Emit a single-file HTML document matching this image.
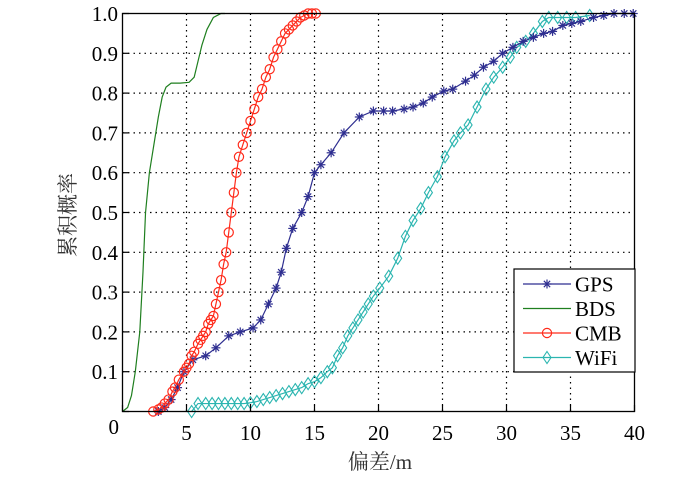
<!DOCTYPE html>
<html><head><meta charset="utf-8"><style>
html,body{margin:0;padding:0;background:#fff;}
svg{display:block;font-family:"Liberation Serif","Noto Serif CJK SC",serif;}
</style></head><body>
<svg id="chart" width="700" height="478" viewBox="0 0 700 478" xmlns="http://www.w3.org/2000/svg">
<g id="grid"></g>
<g id="series"></g>
<rect x="122.5" y="13.5" width="512" height="398" fill="none" stroke="#000" stroke-width="1.3"/>
<g id="ticks"></g>
<text transform="translate(75,215) rotate(-90)" text-anchor="middle" font-size="21" fill="#333" font-family="'Liberation Serif','Noto Serif CJK SC',serif">累积概率</text>
<text x="380" y="469" text-anchor="middle" font-size="21" fill="#333" font-family="'Liberation Serif','Noto Serif CJK SC',serif">偏差/m</text>
<g id="legend">
<rect x="514" y="269" width="121" height="103" fill="#fff" stroke="#000" stroke-width="1.2"/>
</g>
</svg>
<script>
const xTicks=[0,5,10,15,20,25,30,35,40];
const yTicks=[0,0.1,0.2,0.3,0.4,0.5,0.6,0.7,0.8,0.9,1.0];
const yTickLabels=["0","0.1","0.2","0.3","0.4","0.5","0.6","0.7","0.8","0.9","1.0"];
const gpsX=[2.8,3.3,3.8,4.3,4.8,5.5,6.5,7.3,8.3,9.2,10.2,10.8,11.4,12,12.4,12.8,13.3,14,14.5,15,15.5,16.3,17.3,18.5,19.6,20.4,21.1,22,22.7,23.5,24.2,25.1,25.8,26.8,27.5,28.2,29,29.7,30.5,31.3,32.1,32.9,33.6,34.4,35.1,35.8,36.8,37.6,38.4,39.2,39.9];
const gpsY=[0,0.01,0.03,0.06,0.1,0.13,0.14,0.16,0.19,0.2,0.21,0.23,0.27,0.31,0.35,0.41,0.46,0.5,0.54,0.6,0.62,0.65,0.7,0.74,0.755,0.755,0.755,0.76,0.765,0.775,0.79,0.805,0.81,0.83,0.845,0.865,0.88,0.9,0.915,0.93,0.94,0.95,0.955,0.97,0.975,0.98,0.99,0.995,1,1,1];
const bdsX=[0,0.4,0.7,1,1.35,1.6,1.8,2.1,2.5,2.8,3.1,3.4,3.8,4.5,5.2,5.6,5.9,6.2,6.6,7.1,7.7,8];
const bdsY=[0,0.01,0.04,0.1,0.2,0.35,0.5,0.6,0.68,0.74,0.79,0.815,0.825,0.825,0.827,0.84,0.88,0.92,0.96,0.99,1,1];
const cmbX=[2.4,2.8,3.05,3.3,3.6,3.9,4.1,4.4,4.8,5.0,5.2,5.4,5.6,5.9,6.1,6.3,6.5,6.7,6.9,7.1,7.3,7.5,7.7,7.9,8.1,8.3,8.5,8.7,8.9,9.1,9.4,9.7,10,10.3,10.6,10.9,11.2,11.5,11.8,12.1,12.4,12.7,13,13.3,13.6,13.9,14.2,14.5,14.8,15.1];
const cmbY=[0,0.005,0.01,0.02,0.03,0.05,0.06,0.08,0.1,0.11,0.12,0.14,0.15,0.17,0.18,0.19,0.2,0.22,0.23,0.24,0.27,0.3,0.33,0.37,0.4,0.45,0.5,0.55,0.6,0.64,0.67,0.7,0.73,0.76,0.79,0.81,0.84,0.86,0.89,0.91,0.93,0.95,0.96,0.97,0.98,0.99,0.995,1,1,1];
const wifiX=[5.4,5.9,6.5,7,7.5,8,8.5,9,9.5,10,10.5,11,11.5,12,12.5,13,13.5,14,14.5,15,15.5,16,16.4,16.8,17.2,17.6,18,18.4,18.8,19.2,19.6,20.1,20.8,21.5,22.1,22.7,23.3,23.9,24.6,25.2,25.9,26.4,27,27.7,28.4,29,29.7,30.3,30.8,31.5,32.1,32.8,33.3,34,34.7,35.4,36.5];
const wifiY=[0,0.02,0.02,0.02,0.02,0.02,0.02,0.02,0.02,0.022,0.025,0.03,0.035,0.04,0.045,0.05,0.055,0.06,0.07,0.075,0.085,0.1,0.11,0.14,0.16,0.19,0.21,0.23,0.25,0.27,0.29,0.31,0.34,0.385,0.44,0.48,0.51,0.55,0.59,0.64,0.68,0.7,0.72,0.765,0.81,0.84,0.865,0.89,0.915,0.93,0.95,0.98,0.99,0.99,0.99,0.99,0.995];

const X0=122.5,XS=12.8,Y0=411.5,YS=398;
const sx=v=>X0+v*XS, sy=v=>Y0-v*YS;
const NS="http://www.w3.org/2000/svg";
function mk(tag,attrs,parent){const e=document.createElementNS(NS,tag);for(const k in attrs)e.setAttribute(k,attrs[k]);parent.appendChild(e);return e;}
const grid=document.getElementById('grid'),ticks=document.getElementById('ticks'),ser=document.getElementById('series'),leg=document.getElementById('legend');
xTicks.forEach((t,i)=>{
  const x=sx(t);
  if(i>0&&i<xTicks.length-1){const g=mk('line',{x1:x,x2:x,y1:13.5,y2:411.5,stroke:'#000','stroke-width':1.2,'stroke-dasharray':'1.5,4'},grid);
  
  }
  const tk=mk('line',{x1:x,x2:x,y1:411.5,y2:405,stroke:'#000','stroke-width':1.2},ticks);
  
  
  if(t!==0){const tx=mk('text',{x:x,y:440,'text-anchor':'middle','font-size':21},ticks);tx.textContent=t;
  
  }
});
const z=mk('text',{x:119,y:434,'text-anchor':'end','font-size':21},ticks);z.textContent='0';


yTicks.forEach((t,i)=>{
  const y=sy(t);
  if(i>0&&i<yTicks.length-1){const g=mk('line',{x1:122.5,x2:634.5,y1:y,y2:y,stroke:'#000','stroke-width':1.2,'stroke-dasharray':'1.5,4'},grid);
  
  }
  const tk=mk('line',{x1:122.5,x2:129,y1:y,y2:y,stroke:'#000','stroke-width':1.2},ticks);
  
  
  if(i>0){const tx=mk('text',{x:118,y:y+7.5,'text-anchor':'end','font-size':21},ticks);tx.textContent=yTickLabels[i];
  
  }
});
function line(xs,ys,color,name){
  const p=mk('polyline',{points:xs.map((v,i)=>sx(v)+','+sy(ys[i])).join(' '),fill:'none',stroke:color,'stroke-width':1.2},ser);
  
  
}
function star(x,y,c,parent){const r=4.5;const g=mk('g',{stroke:c,'stroke-width':1.2},parent);
  mk('line',{x1:x-r,x2:x+r,y1:y,y2:y},g);mk('line',{x1:x,x2:x,y1:y-r,y2:y+r},g);
  mk('line',{x1:x-r*0.7,x2:x+r*0.7,y1:y-r*0.7,y2:y+r*0.7},g);mk('line',{x1:x-r*0.7,x2:x+r*0.7,y1:y+r*0.7,y2:y-r*0.7},g);return g;}
function circ(x,y,c,parent){return mk('circle',{cx:x,cy:y,r:4.6,fill:'none',stroke:c,'stroke-width':1.2},parent);}
function diam(x,y,c,parent){return mk('polygon',{points:`${x},${y-6} ${x+4},${y} ${x},${y+6} ${x-4},${y}`,fill:'none',stroke:c,'stroke-width':1.1},parent);}
const GC='#2e2e90',BC='#1f7f1f',CC='#ff2a1a',WC='#2bb5b0';
line(bdsX,bdsY,BC,'bds-line');
line(wifiX,wifiY,WC,'wifi-line');
wifiX.forEach((v,i)=>{const m=diam(sx(v),sy(wifiY[i]),WC,ser);
  
  });
line(gpsX,gpsY,GC,'gps-line');
gpsX.forEach((v,i)=>{const m=star(sx(v),sy(gpsY[i]),GC,ser);
  
  });
line(cmbX,cmbY,CC,'cmb-line');
cmbX.forEach((v,i)=>{const m=circ(sx(v),sy(cmbY[i]),CC,ser);
  
  });
const legItems=[['GPS',GC,star],['BDS',BC,null],['CMB',CC,circ],['WiFi',WC,diam]];
legItems.forEach((it,i)=>{
  const y=284+i*24.5;
  const g=mk('g',{},leg);
  
  
  mk('line',{x1:523,x2:571,y1:y,y2:y,stroke:it[1],'stroke-width':1.3},g);
  if(it[2])it[2](547,y,it[1],g);
  const t=mk('text',{x:575,y:y+7.5,'font-size':21},g);t.textContent=it[0];
});
</script>
</body></html>
